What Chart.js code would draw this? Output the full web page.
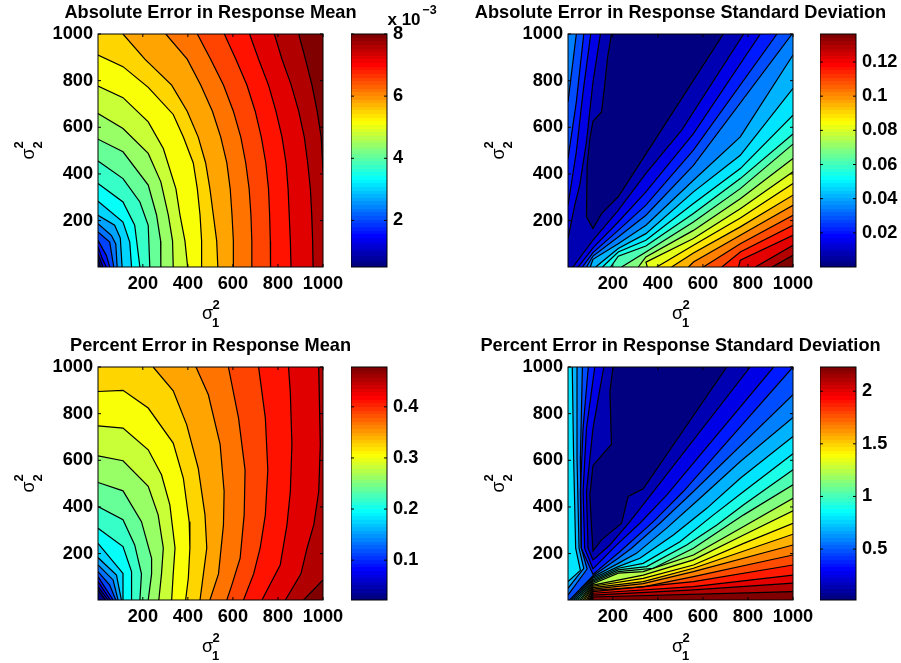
<!DOCTYPE html>
<html>
<head>
<meta charset="utf-8">
<title>Response error contours</title>
<script src="https://cdn.jsdelivr.net/npm/chart.js@4/dist/chart.umd.js"></script>
<style>
body { margin: 0; background: #fff; }
canvas { position: absolute; }
.lbl { position: absolute; font-family: "Liberation Sans", sans-serif; color: #000; line-height: 1; white-space: nowrap; }
</style>
</head>
<body>
<script>
const varianceTicks = [200, 400, 600, 800, 1000];
const varianceRange = [1, 1000];

const titles = [
    'Absolute Error in Response Mean',
    'Absolute Error in Response Standard Deviation',
    'Percent Error in Response Mean',
    'Percent Error in Response Standard Deviation'
];

// contour lines, low level first, higher values on the left of travel
const absMeanLines = [
    [[1,37],[12,1]],
    [[1,58],[23,1]],
    [[1,87],[20,37],[38,1]],
    [[1,115],[38,51],[53,1]],
    [[1,151],[53,108],[71,1]],
    [[1,187],[60,137],[80,100],[86,1]],
    [[1,223],[75,180],[100,125],[108,1]],
    [[1,283],[112,194],[142,108],[150,1]],
    [[1,359],[112,280],[164,180],[187,1]],
    [[1,455],[112,380],[187,280],[224,180],[231,1]],
    [[1,549],[112,495],[224,352],[261,224],[279,113],[280,1]],
    [[1,659],[112,595],[224,488],[280,366],[313,224],[332,113],[335,1]],
    [[1,777],[112,727],[224,623],[291,509],[347,336],[365,224],[387,113],[399,1]],
    [[1,910],[112,860],[224,771],[335,655],[380,558],[424,447],[442,336],[454,224],[461,113],[461,1]],
    [[112,1000],[209,892],[328,781],[397,669],[446,558],[479,447],[498,336],[513,224],[528,113],[533,1]],
    [[302,1000],[397,892],[457,781],[509,669],[546,558],[573,447],[588,336],[596,224],[602,113],[602,1]],
    [[442,1000],[501,892],[558,781],[602,669],[635,558],[657,447],[672,336],[680,224],[684,113],[684,1]],
    [[562,1000],[613,892],[662,781],[699,669],[726,558],[746,447],[758,336],[763,224],[766,113],[767,1]],
    [[674,1000],[714,892],[758,781],[791,669],[818,558],[836,447],[845,336],[850,224],[855,113],[858,1]],
    [[784,1000],[818,892],[859,781],[892,669],[917,558],[932,447],[944,336],[950,224],[954,113],[956,1]],
    [[892,1000],[922,892],[951,781],[974,669],[992,558],[1000,410]]
];
const absMeanLevels = [1,2,3,4,5,6,7,8,9,10,11,12,13,14,15,16,17,18,19,20,21];
const absMeanBarTicks = [2, 4, 6, 8];
const absMeanBarRange = [0.5, 8];

const absStdLines = [
    [[691,1000],[320,445],[224,302],[150,230],[112,166],[83,216],[86,437],[98,552],[112,626],[150,666],[164,781],[176,895],[194,1000]],
    [[1,123],[31,266],[53,352],[83,538],[112,795],[145,1000]],
    [[781,1000],[506,588],[347,402],[224,244],[112,116],[23,1]],
    [[1,266],[38,495],[68,752],[102,1000]],
    [[855,1000],[558,573],[347,323],[224,194],[112,83],[46,1]],
    [[1,466],[38,709],[71,1000]],
    [[929,1000],[558,502],[347,266],[224,158],[112,63],[65,1]],
    [[1,709],[38,1000]],
    [[996,1000],[558,437],[347,223],[224,130],[112,48],[83,1]],
    [[1000,910],[766,559],[558,373],[347,180],[224,101],[112,34],[100,1]],
    [[1000,767],[766,480],[558,323],[347,144],[224,80],[124,1]],
    [[1000,652],[766,423],[558,273],[347,116],[224,65],[154,1]],
    [[1000,571],[766,380],[558,230],[347,91],[224,47],[190,1]],
    [[1000,528],[766,337],[558,194],[347,65],[239,1]],
    [[1000,466],[766,294],[558,158],[347,44],[313,1]],
    [[1000,409],[766,251],[558,123],[347,22],[353,1]],
    [[1000,359],[766,211],[558,94],[395,1]],
    [[1000,309],[766,173],[558,61],[461,1]],
    [[1000,266],[766,137],[558,22],[536,1]],
    [[1000,223],[766,101],[602,1]],
    [[1000,180],[766,65],[684,1]],
    [[1000,137],[766,30],[758,1]],
    [[1000,94],[833,1]],
    [[1000,51],[907,1]]
];
const absStdLevels = [1,2,2,3,3,4,4,5,5,6,7,8,9,10,11,12,13,14,15,16,17,18,19,20];
const absStdBarTicks = [0.02, 0.04, 0.06, 0.08, 0.1, 0.12];
const absStdBarRange = [0, 0.1364];

const pctMeanLines = [
    [[1,44],[34,1]],
    [[1,58],[46,1]],
    [[1,80],[56,1]],
    [[1,101],[68,1]],
    [[1,123],[53,65],[80,1]],
    [[1,151],[68,87],[90,1]],
    [[1,183],[83,108],[105,1]],
    [[1,244],[112,115],[112,1]],
    [[1,309],[112,230],[150,123],[150,1]],
    [[1,402],[112,345],[164,237],[194,113],[187,1]],
    [[1,505],[112,469],[194,337],[239,180],[239,113],[224,1]],
    [[1,619],[112,598],[224,488],[268,366],[291,224],[283,113],[271,1]],
    [[1,748],[112,738],[224,645],[283,538],[320,409],[343,224],[335,113],[328,1]],
    [[1,895],[112,900],[224,824],[335,674],[380,523],[406,336],[409,224],[402,94],[390,1]],
    [[246,1000],[335,898],[395,752],[446,566],[476,366],[484,224],[469,113],[454,1]],
    [[436,1000],[491,881],[543,669],[561,466],[558,323],[536,113],[498,1]],
    [[580,1000],[625,781],[654,558],[650,366],[632,180],[595,65],[573,1]],
    [[714,1000],[744,781],[755,558],[744,366],[721,224],[692,113],[647,1]],
    [[847,1000],[855,888],[862,669],[855,466],[840,323],[810,151],[729,1]],
    [[981,1000],[988,666],[981,466],[959,323],[929,223],[902,113],[833,1]],
    [[1000,87],[914,1]]
];
const pctMeanLevels = [1,2,3,4,5,6,7,8,9,10,11,12,13,14,15,16,17,18,19,20,21];
const pctMeanBarTicks = [0.1, 0.2, 0.3, 0.4];
const pctMeanBarRange = [0.022, 0.478];

const pctStdLines = [
    [[706,1000],[335,478],[268,445],[239,330],[150,259],[112,211],[105,323],[98,452],[112,578],[194,669],[187,895],[201,1000]],
    [[810,1000],[380,466],[276,337],[187,237],[112,173],[90,223],[83,466],[112,738],[160,1000]],
    [[914,1000],[439,451],[320,330],[209,230],[112,134],[75,223],[68,466],[83,738],[120,1000]],
    [[1000,1000],[513,466],[380,337],[231,208],[112,111],[60,223],[56,466],[68,738],[91,1000]],
    [[1,22],[86,134],[60,223],[56,609],[65,1000]],
    [[1000,881],[558,466],[409,330],[283,223],[224,180],[112,105],[8,1]],
    [[1,51],[71,137],[50,223],[41,609],[41,1000]],
    [[1000,784],[766,595],[587,437],[439,309],[305,201],[224,158],[112,100],[17,1]],
    [[1,80],[56,128],[35,223],[26,609],[20,1000]],
    [[1000,702],[766,523],[617,394],[469,280],[320,180],[224,144],[112,94],[26,1]],
    [[1000,628],[781,466],[647,366],[498,251],[335,158],[224,137],[112,88],[35,1]],
    [[1000,559],[781,409],[662,323],[528,237],[350,144],[224,130],[112,83],[44,1]],
    [[1000,495],[781,366],[558,223],[380,137],[224,123],[112,77],[53,1]],
    [[1000,437],[781,316],[558,194],[335,123],[224,116],[112,71],[60,1]],
    [[1000,383],[781,280],[558,173],[335,108],[112,65],[68,1]],
    [[1000,330],[781,244],[558,151],[335,94],[112,60],[75,1]],
    [[1000,283],[558,137],[335,80],[112,54],[83,1]],
    [[1000,237],[558,123],[335,71],[112,48],[89,1]],
    [[1000,194],[558,101],[335,57],[112,43],[95,1]],
    [[1000,151],[558,80],[112,37],[99,1]],
    [[1000,108],[558,58],[112,30],[103,1]],
    [[1000,73],[558,44],[112,22],[108,1]],
    [[1000,37],[112,14],[111,1]]
];
const pctStdLevels = [1,2,3,4,5,5,6,6,7,7,8,9,10,11,12,13,14,15,16,17,18,19,20];
const pctStdBarTicks = [0.5, 1, 1.5, 2];
const pctStdBarRange = [0.016, 2.23];

const FONT = '"Liberation Sans", sans-serif';
const FONT_SIZE = 18.2;
const PLOT_W = 225, PLOT_H = 233, BAR_W = 36;
const MARGIN_SIDE = 95, MARGIN_B = 40, MARGIN_T = 33, BAR_PAD = 12, BAR_LABELS = 50;
const JET_STEPS = 64;

function jet(t) {
    const c = v => Math.round(255 * Math.min(1, Math.max(0, 1.5 - Math.abs(4 * t - v))));
    return 'rgb(' + c(3) + ',' + c(2) + ',' + c(1) + ')';
}

// walk round the plot edge from the end of a line back to its start
function edgePos(p) {
    const lo = varianceRange[0], hi = varianceRange[1], span = hi - lo;
    if (p[1] === lo) return p[0] - lo;
    if (p[0] === hi) return span + p[1] - lo;
    if (p[1] === hi) return 2 * span + hi - p[0];
    return 3 * span + hi - p[1];
}

function closeLine(line) {
    const lo = varianceRange[0], hi = varianceRange[1];
    const total = 4 * (hi - lo);
    const corners = [[hi, lo], [hi, hi], [lo, hi], [lo, lo]];
    const from = edgePos(line[line.length - 1]);
    const to = (edgePos(line[0]) - from + total) % total;
    const extra = corners
        .map(c => ({ c: c, d: (edgePos(c) - from + total) % total }))
        .filter(o => o.d > 0 && o.d < to)
        .sort((a, b) => a.d - b.d)
        .map(o => o.c);
    return line.concat(extra);
}

const toPoints = line => line.map(p => ({ x: p[0], y: p[1] }));

// inward ticks and box round the plot, same on all four sides
const framePlugin = {
    id: 'frame',
    afterDraw(chart) {
        const ctx = chart.ctx, a = chart.chartArea;
        ctx.save();
        ctx.strokeStyle = '#000';
        ctx.lineWidth = 1;
        ctx.strokeRect(a.left, a.top, a.width, a.height);
        ctx.beginPath();
        const xs = chart.scales.x;
        if (xs.options.display) {
            xs.ticks.forEach(t => {
                const x = xs.getPixelForValue(t.value);
                ctx.moveTo(x, a.bottom); ctx.lineTo(x, a.bottom - 3);
                ctx.moveTo(x, a.top); ctx.lineTo(x, a.top + 3);
            });
        }
        const ys = chart.scales.y;
        ys.ticks.forEach(t => {
            const y = ys.getPixelForValue(t.value);
            ctx.moveTo(a.left, y); ctx.lineTo(a.left + 3, y);
            ctx.moveTo(a.right, y); ctx.lineTo(a.right - 3, y);
        });
        ctx.stroke();
        ctx.restore();
    }
};

function addCanvas(left, top, width, height) {
    const canvas = document.createElement('canvas');
    canvas.width = width;
    canvas.height = height;
    canvas.style.left = left + 'px';
    canvas.style.top = top + 'px';
    document.body.appendChild(canvas);
    return canvas;
}

function addText(text, x, y, size, weight, rotate) {
    const el = document.createElement('div');
    el.className = 'lbl';
    el.textContent = text;
    el.style.left = x + 'px';
    el.style.top = y + 'px';
    el.style.fontSize = size + 'px';
    el.style.fontWeight = weight;
    el.style.transform = 'translate(-50%,-50%)' + (rotate ? ' rotate(-90deg)' : '');
    document.body.appendChild(el);
}

function drawPlot(left, top, title, lines, levels) {
    const datasets = [];
    const lo = varianceRange[0], hi = varianceRange[1];
    const topLevel = Math.max(...levels);
    const base = [[lo, lo], [hi, lo], [hi, hi], [lo, hi]];
    datasets.push({ data: toPoints(base), showLine: true, fill: 'shape', backgroundColor: jet(0), borderWidth: 0, pointRadius: 0 });
    lines.forEach((line, i) => {
        datasets.push({
            data: toPoints(closeLine(line)), showLine: true, fill: 'shape',
            backgroundColor: jet(levels[i] / topLevel), borderWidth: 0, pointRadius: 0
        });
    });
    lines.forEach(line => {
        datasets.push({ data: toPoints(line), showLine: true, fill: false, borderColor: '#000', borderWidth: 1.2, pointRadius: 0 });
    });
    datasets.reverse(); // chart.js paints the first dataset last

    const axis = {
        type: 'linear', min: lo, max: hi,
        grid: { display: false, drawTicks: false },
        border: { display: false },
        afterBuildTicks(scale) { scale.ticks = varianceTicks.map(v => ({ value: v })); }
    };
    const tickFont = { family: FONT, size: FONT_SIZE, weight: 'bold' };
    new Chart(addCanvas(left - MARGIN_SIDE, top - MARGIN_T, 2 * MARGIN_SIDE + PLOT_W, MARGIN_T + PLOT_H + MARGIN_B), {
        type: 'scatter',
        data: { datasets: datasets },
        options: {
            responsive: false,
            animation: false,
            plugins: {
                legend: { display: false },
                tooltip: { enabled: false },
                title: {
                    display: true, text: title, color: '#000',
                    font: { family: FONT, size: FONT_SIZE, weight: 'bold', lineHeight: 1.2 },
                    padding: { top: 1.16, bottom: 10 }
                }
            },
            scales: {
                x: Object.assign({}, axis, {
                    ticks: { color: '#000', padding: 6, maxRotation: 0, autoSkip: false, font: tickFont, callback: v => String(v) },
                    afterFit(s) { s.height = MARGIN_B; }
                }),
                y: Object.assign({}, axis, {
                    ticks: { color: '#000', padding: 5, autoSkip: false, font: tickFont, callback: v => String(v) },
                    afterFit(s) { s.width = MARGIN_SIDE; }
                }),
                // empty axis on the right keeps the plot centred under the title
                spacer: {
                    position: 'right',
                    grid: { display: false, drawTicks: false },
                    border: { display: false },
                    ticks: { display: false },
                    afterFit(s) { s.width = MARGIN_SIDE; }
                }
            }
        },
        plugins: [framePlugin]
    });

    // sigma axis labels with stacked super and subscript
    const cx = left + 109.5, cy = top + 279;
    addText('σ', cx, cy, 18, 'normal');
    addText('2', cx + 8.5, cy - 9.5, 13, 'bold');
    addText('1', cx + 8, cy + 9, 13, 'bold');
    const lx = left - 70, ly = top + 120;
    addText('σ', lx, ly, 18, 'normal', true);
    addText('2', lx - 10, ly - 9, 13, 'bold', true);
    addText('2', lx + 9, ly - 9, 13, 'bold', true);
}

// stepped jet colours, bottom of the bar to the top
function jetSteps(ctx) {
    const a = ctx.chart.chartArea;
    if (!a) return jet(0);
    const g = ctx.chart.ctx.createLinearGradient(0, a.bottom, 0, a.top);
    for (let i = 0; i < JET_STEPS; i++) {
        const color = jet(i / (JET_STEPS - 1));
        g.addColorStop(i / JET_STEPS, color);
        g.addColorStop((i + 1) / JET_STEPS, color);
    }
    return g;
}

function drawBar(left, top, range, ticks) {
    new Chart(addCanvas(left, top - BAR_PAD, BAR_W + BAR_LABELS, PLOT_H + 2 * BAR_PAD), {
        type: 'bar',
        data: {
            labels: [''],
            datasets: [{ data: [[range[0], range[1]]], backgroundColor: jetSteps, borderWidth: 0, categoryPercentage: 1, barPercentage: 1 }]
        },
        options: {
            responsive: false,
            animation: false,
            layout: { padding: { top: BAR_PAD, bottom: BAR_PAD } },
            plugins: { legend: { display: false }, tooltip: { enabled: false } },
            scales: {
                x: { display: false },
                y: {
                    position: 'right', min: range[0], max: range[1],
                    grid: { display: false, drawTicks: false },
                    border: { display: false },
                    ticks: { color: '#000', padding: 6, autoSkip: false, font: { family: FONT, size: FONT_SIZE, weight: 'bold' }, callback: v => String(v) },
                    afterBuildTicks(scale) { scale.ticks = ticks.map(v => ({ value: v })); },
                    afterFit(s) { s.width = BAR_LABELS; s.paddingTop = 0; s.paddingBottom = 0; }
                }
            }
        },
        plugins: [framePlugin]
    });
}

drawPlot(98, 34, titles[0], absMeanLines, absMeanLevels);
drawBar(351, 34, absMeanBarRange, absMeanBarTicks);
drawPlot(568, 34, titles[1], absStdLines, absStdLevels);
drawBar(820, 34, absStdBarRange, absStdBarTicks);
drawPlot(98, 367, titles[2], pctMeanLines, pctMeanLevels);
drawBar(351, 367, pctMeanBarRange, pctMeanBarTicks);
drawPlot(568, 367, titles[3], pctStdLines, pctStdLevels);
drawBar(820, 367, pctStdBarRange, pctStdBarTicks);

// colorbar multiplier above the first bar
addText('x 10', 404, 18.5, 17, 'bold');
addText('−3', 429.5, 10, 12.5, 'bold');
</script>
</body>
</html>
